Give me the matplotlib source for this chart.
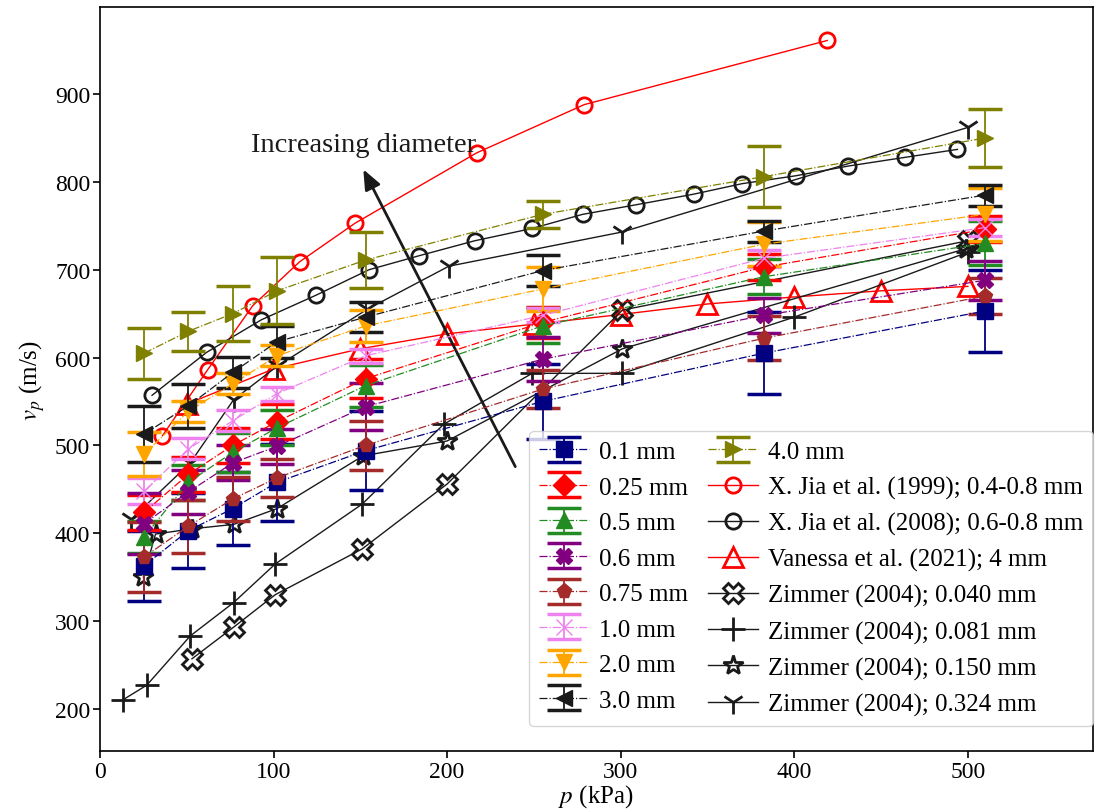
import matplotlib
matplotlib.use("Agg")
import matplotlib.pyplot as plt

plt.rcParams['font.family'] = ['Liberation Serif', 'DejaVu Serif']
plt.rcParams['mathtext.fontset'] = 'stix'

# Experimental data (this study)
p_exp = [25.5, 51, 76.5, 102, 153, 255, 382.5, 510]
labels_exp = ['0.1 mm', '0.25 mm', '0.5 mm', '0.6 mm', '0.75 mm', '1.0 mm', '2.0 mm', '3.0 mm', '4.0 mm']
v_01 = [363, 403, 428, 458, 494, 550, 605, 653]
e_01 = [40, 43, 42, 44, 45, 43, 47, 47]
v_025 = [424, 467, 500, 527, 576, 640, 703, 746]
e_025 = [20, 20, 20, 20, 22, 18, 15, 15]
v_05 = [396, 458, 492, 520, 568, 636, 692, 730]
e_05 = [18, 20, 22, 20, 24, 20, 20, 25]
v_06 = [411, 447, 480, 499, 544, 598, 648, 688]
e_06 = [35, 25, 20, 20, 27, 25, 20, 22]
v_075 = [373, 408, 439, 463, 500, 564, 622, 670]
e_075 = [40, 30, 25, 22, 28, 22, 25, 20]
v_10 = [448, 496, 528, 559, 602, 648, 713, 748]
e_10 = [15, 12, 12, 8, 8, 8, 10, 10]
v_20 = [490, 539, 570, 602, 636, 678, 729, 763]
e_20 = [25, 12, 12, 12, 18, 25, 25, 30]
v_30 = [513, 545, 583, 618, 646, 699, 744, 785]
e_30 = [32, 25, 18, 18, 17, 18, 12, 12]
v_40 = [605, 630, 650, 676, 711, 763, 806, 850]
e_40 = [29, 22, 31, 38, 32, 15, 35, 33]

# Literature data
p_jia99 = [36, 62, 88, 115, 147, 217, 279, 419]
v_jia99 = [511, 586, 659, 709, 753, 833, 888, 961]
p_jia08 = [30, 61.5, 93, 124.5, 155, 184, 216, 249, 278, 309, 342, 370, 401, 431, 464, 494]
v_jia08 = [557, 606, 643, 671, 700, 716, 733, 747, 763, 774, 786, 798, 807, 818, 828, 837]
p_van = [50, 100, 150, 200, 250, 300, 350, 400, 450, 500]
v_van = [547, 587, 610, 627, 638, 649, 661, 669, 676, 681]
p_z040 = [53, 77, 101, 151, 200, 301, 500]
v_z040 = [257, 293, 330, 382, 456, 654, 733]
p_z081 = [13, 27, 52, 77, 101, 151, 198, 249, 301, 400, 500]
v_z081 = [210, 227, 283, 321, 365, 433, 524, 582, 582, 646, 720]
p_z150 = [25, 32, 53, 77, 102, 151.5, 200, 301, 499]
v_z150 = [350, 399, 405, 410, 428, 488, 505, 610, 724]
p_z324 = [18, 52, 77, 102, 154, 201, 301, 500]
v_z324 = [416, 480, 552, 590, 655, 704, 743, 862]

fig = plt.figure(figsize=(10.95, 8.12), dpi=100)
ax = fig.add_axes([0.0913, 0.0739, 0.9067, 0.9161])

exp_vals = [v_01, v_025, v_05, v_06, v_075, v_10, v_20, v_30, v_40]
exp_errs = [e_01, e_025, e_05, e_06, e_075, e_10, e_20, e_30, e_40]
colors = ['navy', 'red', 'forestgreen', 'purple', 'brown', 'violet', 'orange', '#1a1a1a', 'olive']
markers = ['s', 'D', '^', 'X', 'p', 'x', 'v', '<', '>']

handles = []
for v, e, c, m, lab in zip(exp_vals, exp_errs, colors, markers, labels_exp):
    h = ax.errorbar(p_exp, v, yerr=e, color=c, marker=m, markersize=11, ls='-.', lw=0.9,
                    capsize=12, capthick=2.5, elinewidth=1.3, label=lab, zorder=3)
    handles.append(h)

k = '#1a1a1a'
h = ax.plot(p_jia99, v_jia99, color='red', marker='o', mfc='none', mec='red', ms=11, mew=2,
            lw=1, label='X. Jia et al. (1999); 0.4-0.8 mm')[0]; handles.append(h)
h = ax.plot(p_jia08, v_jia08, color=k, marker='o', mfc='none', mec=k, ms=11, mew=2,
            lw=1, label='X. Jia et al. (2008); 0.6-0.8 mm')[0]; handles.append(h)
h = ax.plot(p_van, v_van, color='red', marker='^', mfc='none', mec='red', ms=15, mew=2,
            lw=1, label='Vanessa et al. (2021); 4 mm')[0]; handles.append(h)
h = ax.plot(p_z040, v_z040, color=k, marker='X', mfc='none', mec=k, ms=15, mew=2,
            lw=1, label='Zimmer (2004); 0.040 mm')[0]; handles.append(h)
h = ax.plot(p_z081, v_z081, color=k, marker='+', ms=17, mew=2,
            lw=1, label='Zimmer (2004); 0.081 mm')[0]; handles.append(h)
h = ax.plot(p_z150, v_z150, color=k, marker='*', mfc='none', mec=k, ms=15, mew=2,
            lw=1, label='Zimmer (2004); 0.150 mm')[0]; handles.append(h)
h = ax.plot(p_z324, v_z324, color=k, marker='1', ms=17, mew=2,
            lw=1, label='Zimmer (2004); 0.324 mm')[0]; handles.append(h)

ax.set_xlim(0, 572)
ax.set_ylim(152, 999)
ax.set_xticks([0, 100, 200, 300, 400, 500])
ax.set_yticks([200, 300, 400, 500, 600, 700, 800, 900])
ax.tick_params(labelsize=17, length=5, width=1.2, pad=2)
for s in ax.spines.values():
    s.set_linewidth(1.2)
ax.set_xlabel('$p$ (kPa)', fontsize=18, labelpad=0)
ax.set_ylabel('$v_p$ (m/s)', fontsize=18, labelpad=6)

ax.annotate('', xy=(151, 817), xytext=(240, 473),
            arrowprops=dict(arrowstyle='-|>,head_length=1.2,head_width=0.5', color=k, lw=2))
ax.text(152, 843, 'Increasing diameter', fontsize=20.5, ha='center', va='center', color=k)

leg = ax.legend(handles=handles, ncol=2, loc='lower right', bbox_to_anchor=(1.0, 0.034),
                borderaxespad=0, fontsize=18, handlelength=2.0, handletextpad=0.4,
                columnspacing=0.8, labelspacing=0.52, borderpad=0.4)

fig.savefig('out.png', dpi=100)
